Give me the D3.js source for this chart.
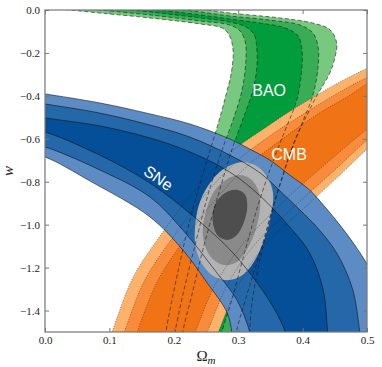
<!DOCTYPE html>
<html>
<head>
<meta charset="utf-8">
<script src="https://cdn.jsdelivr.net/npm/d3@7"></script>
<style>
  html, body { margin: 0; padding: 0; background: #fff; }
  #chart { width: 382px; height: 367px; }
</style>
</head>
<body>
<div id="chart"></div>
<script>
// Axis ticks
const xTicks = [0, 0.1, 0.2, 0.3, 0.4, 0.5];
const yTicks = [0, -0.2, -0.4, -0.6, -0.8, -1.0, -1.2, -1.4];

// SNe contour boundaries [Omega_m, w] (upper side then lower side, outer -> inner)
const sneUpper3 = [[-0.03,-0.378],[0,-0.391],[0.085,-0.433],[0.163,-0.484],[0.225,-0.531],[0.287,-0.601],[0.318,-0.648],[0.349,-0.699],[0.380,-0.769],[0.411,-0.839],[0.435,-0.918],[0.458,-1.002],[0.481,-1.095],[0.502,-1.197],[0.517,-1.33],[0.528,-1.51],[0.535,-1.62]];
const sneUpper2 = [[-0.03,-0.425],[0,-0.438],[0.085,-0.480],[0.163,-0.536],[0.225,-0.592],[0.287,-0.676],[0.334,-0.759],[0.370,-0.857],[0.396,-0.932],[0.422,-1.011],[0.453,-1.132],[0.478,-1.304],[0.489,-1.5],[0.494,-1.584]];
const sneUpper1 = [[-0.03,-0.49],[0,-0.503],[0.085,-0.540],[0.163,-0.596],[0.225,-0.661],[0.287,-0.755],[0.334,-0.866],[0.380,-1.011],[0.411,-1.132],[0.432,-1.304],[0.439,-1.5],[0.443,-1.584]];
const sneLower1 = [[-0.03,-0.55],[0,-0.568],[0.085,-0.676],[0.163,-0.806],[0.241,-0.988],[0.292,-1.132],[0.334,-1.290],[0.357,-1.398],[0.373,-1.5],[0.377,-1.584]];
const sneLower2 = [[-0.03,-0.62],[0,-0.638],[0.085,-0.745],[0.163,-0.871],[0.214,-1.025],[0.267,-1.225],[0.298,-1.351],[0.318,-1.5],[0.323,-1.584]];
const sneLower3 = [[-0.03,-0.668],[0,-0.685],[0.070,-0.797],[0.163,-0.964],[0.214,-1.118],[0.252,-1.272],[0.283,-1.411],[0.290,-1.5],[0.293,-1.584]];

// BAO contour boundaries (inner side then outer side)
const baoInner3 = [[-0.039,0.028],[0.023,0.005],[0.085,-0.014],[0.163,-0.037],[0.241,-0.065],[0.275,-0.084],[0.286,-0.116],[0.292,-0.186],[0.290,-0.280],[0.281,-0.396],[0.266,-0.559],[0.247,-0.745],[0.225,-0.978],[0.207,-1.211],[0.191,-1.444],[0.186,-1.537],[0.183,-1.607]];
const baoInner2 = [[-0.039,0.042],[0.023,0.019],[0.085,0],[0.163,-0.023],[0.241,-0.051],[0.287,-0.070],[0.303,-0.098],[0.311,-0.149],[0.312,-0.233],[0.306,-0.373],[0.292,-0.512],[0.275,-0.652],[0.253,-0.862],[0.233,-1.095],[0.214,-1.328],[0.202,-1.5],[0.197,-1.607]];
const baoInner1 = [[-0.039,0.056],[0.023,0.033],[0.085,0.014],[0.163,-0.009],[0.241,-0.037],[0.287,-0.056],[0.312,-0.079],[0.325,-0.116],[0.329,-0.186],[0.329,-0.266],[0.323,-0.373],[0.307,-0.512],[0.290,-0.652],[0.269,-0.862],[0.247,-1.095],[0.228,-1.328],[0.214,-1.5],[0.210,-1.607]];
const baoOuter1 = [[-0.039,0.070],[0.085,0.028],[0.163,0.005],[0.241,-0.023],[0.287,-0.042],[0.334,-0.061],[0.373,-0.084],[0.393,-0.121],[0.399,-0.186],[0.399,-0.266],[0.391,-0.419],[0.373,-0.559],[0.352,-0.722],[0.331,-0.908],[0.311,-1.118],[0.290,-1.351],[0.275,-1.5],[0.270,-1.607]];
const baoOuter2 = [[-0.039,0.084],[0.085,0.042],[0.163,0.019],[0.241,-0.009],[0.287,-0.028],[0.349,-0.047],[0.396,-0.070],[0.416,-0.107],[0.424,-0.172],[0.424,-0.266],[0.416,-0.396],[0.398,-0.536],[0.377,-0.699],[0.357,-0.885],[0.335,-1.118],[0.311,-1.351],[0.297,-1.5],[0.292,-1.607]];
const baoOuter3 = [[-0.039,0.098],[0.085,0.056],[0.163,0.033],[0.241,0.005],[0.287,-0.014],[0.365,-0.037],[0.416,-0.061],[0.443,-0.093],[0.453,-0.154],[0.450,-0.224],[0.443,-0.289],[0.432,-0.349],[0.421,-0.405],[0.407,-0.489],[0.388,-0.606],[0.370,-0.769],[0.351,-0.955],[0.332,-1.188],[0.321,-1.374],[0.318,-1.5],[0.317,-1.607]];

// CMB contour boundaries (upper-left side then lower-right side)
const cmbLeft3 = [[0.093,-1.584],[0.104,-1.5],[0.137,-1.244],[0.182,-1.039],[0.233,-0.839],[0.287,-0.666],[0.337,-0.559],[0.396,-0.443],[0.458,-0.335],[0.502,-0.270],[0.543,-0.214]];
const cmbLeft2 = [[0.112,-1.584],[0.123,-1.5],[0.155,-1.258],[0.199,-1.057],[0.248,-0.862],[0.300,-0.699],[0.349,-0.587],[0.411,-0.466],[0.466,-0.368],[0.502,-0.312],[0.543,-0.261]];
const cmbLeft1 = [[0.132,-1.584],[0.143,-1.5],[0.174,-1.267],[0.216,-1.071],[0.264,-0.885],[0.314,-0.727],[0.362,-0.615],[0.424,-0.484],[0.474,-0.396],[0.502,-0.340],[0.543,-0.284]];
const cmbRight1 = [[0.220,-1.584],[0.233,-1.5],[0.264,-1.281],[0.306,-1.095],[0.376,-0.876],[0.443,-0.699],[0.502,-0.550],[0.543,-0.457]];
const cmbRight2 = [[0.239,-1.584],[0.252,-1.5],[0.283,-1.281],[0.325,-1.095],[0.393,-0.899],[0.450,-0.745],[0.502,-0.601],[0.543,-0.503]];
const cmbRight3 = [[0.256,-1.584],[0.269,-1.5],[0.300,-1.281],[0.342,-1.095],[0.411,-0.899],[0.458,-0.769],[0.502,-0.643],[0.543,-0.540]];

// Combined constraint (closed contours)
const combined3 = [[0.307,-0.708],[0.331,-0.731],[0.346,-0.783],[0.354,-0.852],[0.352,-0.941],[0.343,-1.048],[0.328,-1.155],[0.309,-1.230],[0.287,-1.258],[0.264,-1.244],[0.245,-1.188],[0.234,-1.104],[0.233,-1.011],[0.239,-0.908],[0.253,-0.820],[0.275,-0.745]];
const combined2 = [[0.303,-0.769],[0.321,-0.792],[0.332,-0.848],[0.334,-0.918],[0.328,-1.016],[0.315,-1.109],[0.298,-1.174],[0.278,-1.188],[0.259,-1.155],[0.248,-1.095],[0.245,-1.016],[0.252,-0.918],[0.264,-0.839],[0.283,-0.787]];
const combined1 = [[0.300,-0.839],[0.311,-0.862],[0.314,-0.918],[0.309,-0.988],[0.298,-1.048],[0.283,-1.071],[0.269,-1.053],[0.261,-0.997],[0.262,-0.922],[0.272,-0.871],[0.286,-0.843]];

document.addEventListener("DOMContentLoaded", function () {
  const width = 382, height = 367;
  const margin = { top: 10, right: 15, bottom: 35, left: 45 };

  const svg = d3.select("#chart").append("svg")
    .attr("width", width).attr("height", height);

  const x = d3.scaleLinear().domain([0, 0.5]).range([margin.left, width - margin.right]);
  const y = d3.scaleLinear().domain([0, -1.5]).range([margin.top, height - margin.bottom]);

  const line = d3.line().x(d => x(d[0])).y(d => y(d[1])).curve(d3.curveCatmullRom.alpha(0.5));
  const closedLine = d3.line().x(d => x(d[0])).y(d => y(d[1])).curve(d3.curveCatmullRomClosed.alpha(0.5));

  // region between two boundary curves
  function band(a, b) {
    return line(a) + line(b.slice().reverse()).replace(/^M/, "L") + "Z";
  }

  svg.append("clipPath").attr("id", "plot-clip")
    .append("rect")
    .attr("x", x(0)).attr("y", y(0))
    .attr("width", x(0.5) - x(0)).attr("height", y(-1.5) - y(0));

  const plot = svg.append("g").attr("clip-path", "url(#plot-clip)");

  // BAO
  plot.append("path").attr("d", band(baoInner3, baoOuter3)).attr("fill", "#78c880");
  plot.append("path").attr("d", band(baoInner2, baoOuter2)).attr("fill", "#38ad55");
  plot.append("path").attr("d", band(baoInner1, baoOuter1)).attr("fill", "#019d3c");

  // CMB
  plot.append("path").attr("d", band(cmbLeft3, cmbRight3)).attr("fill", "#fdb26c");
  plot.append("path").attr("d", band(cmbLeft2, cmbRight2)).attr("fill", "#f88c3a");
  plot.append("path").attr("d", band(cmbLeft1, cmbRight1)).attr("fill", "#f07316");

  // SNe
  plot.append("path").attr("d", band(sneUpper3, sneLower3)).attr("fill", "#5d8cc4");
  plot.append("path").attr("d", band(sneUpper2, sneLower2)).attr("fill", "#2468aa");
  plot.append("path").attr("d", band(sneUpper1, sneLower1)).attr("fill", "#054e98");

  // combined
  plot.append("path").attr("d", closedLine(combined3)).attr("fill", "#b3b3b3");
  plot.append("path").attr("d", closedLine(combined2)).attr("fill", "#8a8a8a");
  plot.append("path").attr("d", closedLine(combined1)).attr("fill", "#4e4e4e");

  // contour lines on top
  [baoInner3, baoInner2, baoInner1, baoOuter1, baoOuter2, baoOuter3].forEach(c => {
    plot.append("path").attr("d", line(c)).attr("fill", "none")
      .attr("stroke", "#1a1a1a").attr("stroke-width", 0.7)
      .attr("stroke-dasharray", "4,2.5").attr("stroke-opacity", 0.85);
  });
  [cmbLeft3, cmbLeft2, cmbLeft1, cmbRight1, cmbRight2, cmbRight3].forEach(c => {
    plot.append("path").attr("d", line(c)).attr("fill", "none")
      .attr("stroke", "#222").attr("stroke-width", 0.6)
      .attr("stroke-dasharray", "1,1.5").attr("stroke-opacity", 0.8);
  });
  [sneUpper3, sneUpper2, sneUpper1, sneLower1, sneLower2, sneLower3].forEach(c => {
    plot.append("path").attr("d", line(c)).attr("fill", "none")
      .attr("stroke", "#111").attr("stroke-width", 0.7).attr("stroke-opacity", 0.85);
  });

  // labels
  const labelFont = "'Liberation Sans', Arial, sans-serif";
  svg.append("text").text("BAO")
    .attr("transform", `translate(${x(0.348)},${y(-0.373)})`)
    .attr("text-anchor", "middle").attr("dominant-baseline", "central")
    .attr("font-family", labelFont).attr("font-size", 16).attr("fill", "#fff");
  svg.append("text").text("CMB")
    .attr("transform", `translate(${x(0.379)},${y(-0.671)})`)
    .attr("text-anchor", "middle").attr("dominant-baseline", "central")
    .attr("font-family", labelFont).attr("font-size", 16).attr("fill", "#fff");
  svg.append("text").text("SNe")
    .attr("transform", `translate(${x(0.176)},${y(-0.783)}) rotate(35)`)
    .attr("text-anchor", "middle").attr("dominant-baseline", "central")
    .attr("font-family", labelFont).attr("font-size", 16).attr("fill", "#fff");

  // axes
  const tickFont = "'Liberation Serif', 'DejaVu Serif', serif";
  const fmt = d3.format(".1f");

  const gx = svg.append("g").attr("transform", `translate(0,${y(-1.5)})`)
    .call(d3.axisBottom(x).tickValues(xTicks).tickFormat(fmt).tickSize(-4).tickPadding(4));
  const gy = svg.append("g").attr("transform", `translate(${x(0)},0)`)
    .call(d3.axisLeft(y).tickValues(yTicks).tickFormat(fmt).tickSize(-4).tickPadding(5));
  const gt = svg.append("g").attr("transform", `translate(0,${y(0)})`)
    .call(d3.axisTop(x).tickValues(xTicks).tickFormat("").tickSize(-4));
  const gr = svg.append("g").attr("transform", `translate(${x(0.5)},0)`)
    .call(d3.axisRight(y).tickValues(yTicks).tickFormat("").tickSize(-4));

  [gx, gy, gt, gr].forEach(g => {
    g.select(".domain").remove();
    g.selectAll(".tick line").attr("stroke", "#777").attr("stroke-width", 1);
    g.selectAll(".tick text").attr("font-family", tickFont).attr("font-size", 11).attr("fill", "#222");
  });

  svg.append("rect")
    .attr("x", x(0)).attr("y", y(0))
    .attr("width", x(0.5) - x(0)).attr("height", y(-1.5) - y(0))
    .attr("fill", "none").attr("stroke", "#777").attr("stroke-width", 1.2);

  // axis titles
  svg.append("text")
    .attr("transform", `translate(13,${(y(0) + y(-1.5)) / 2}) rotate(-90)`)
    .attr("text-anchor", "middle")
    .attr("font-family", tickFont).attr("font-style", "italic").attr("font-size", 15)
    .attr("fill", "#222").text("w");

  const xt = svg.append("text")
    .attr("x", (x(0) + x(0.5)) / 2).attr("y", 361)
    .attr("text-anchor", "middle")
    .attr("font-family", tickFont).attr("font-size", 15).attr("fill", "#222");
  xt.append("tspan").text("Ω");
  xt.append("tspan").attr("font-style", "italic").attr("font-size", 11).attr("dy", 3).text("m");
});
</script>
</body>
</html>
